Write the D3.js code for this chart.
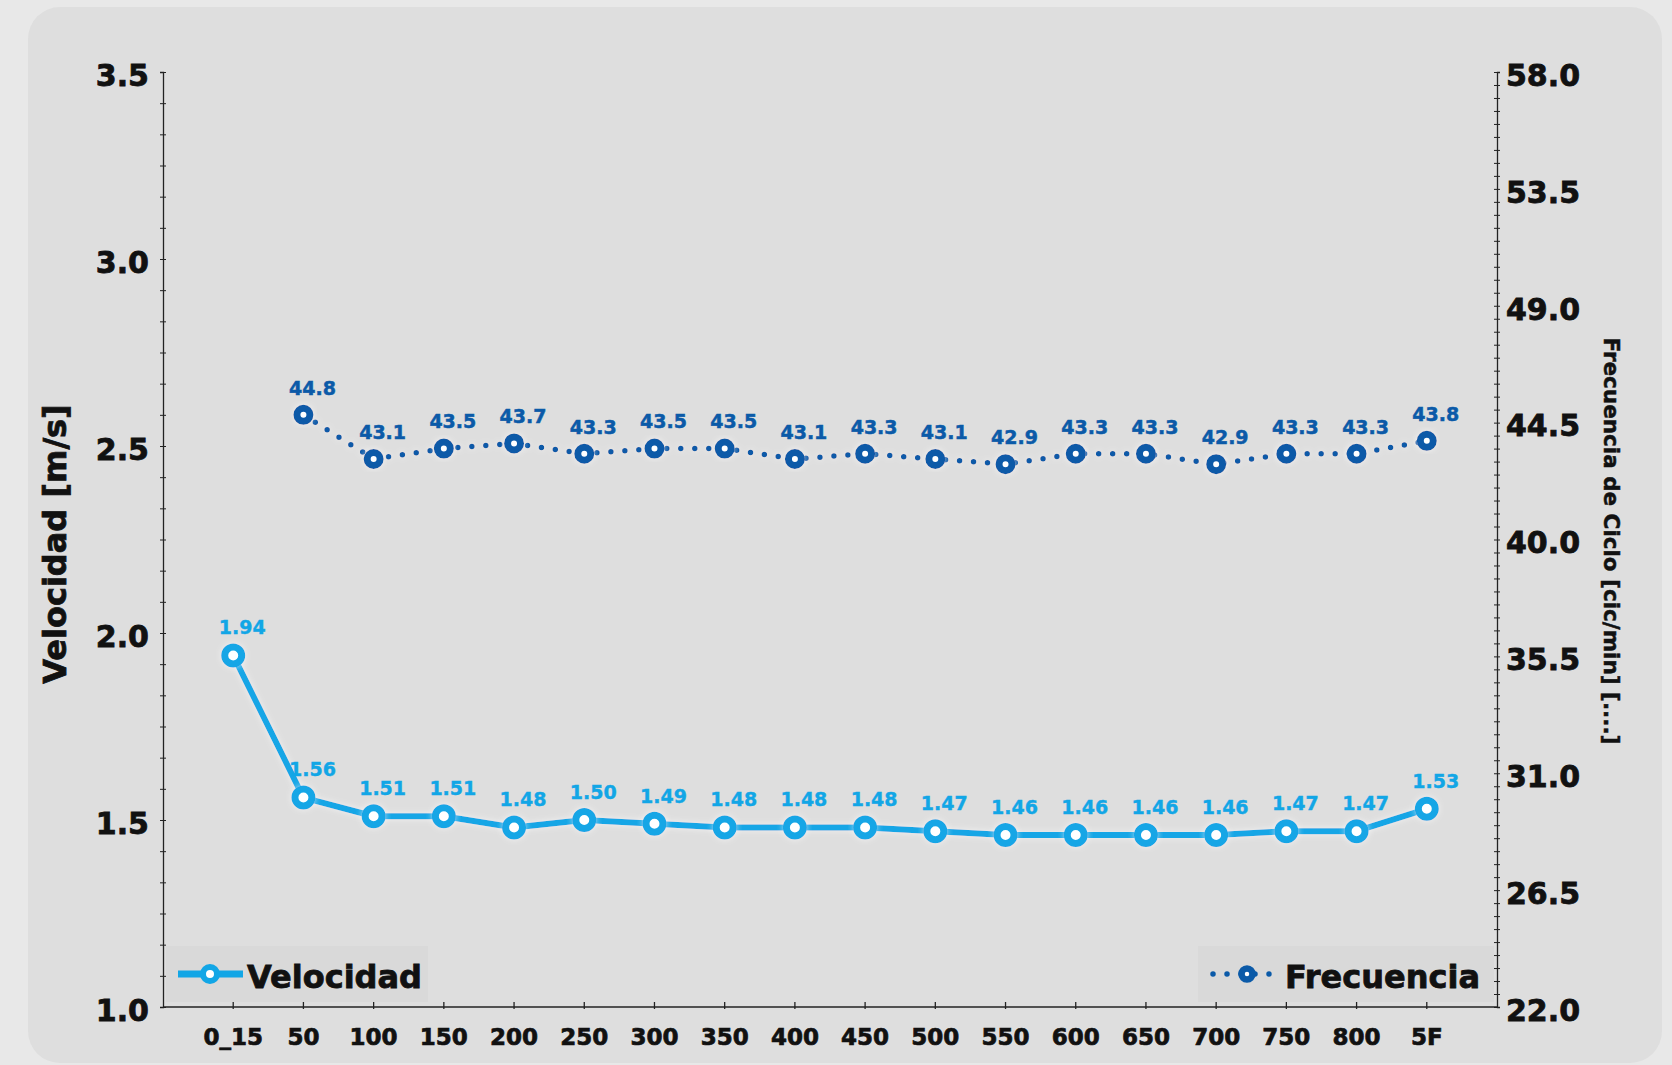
<!DOCTYPE html>
<html>
<head>
<meta charset="utf-8">
<script src="https://cdn.jsdelivr.net/npm/d3@7/dist/d3.min.js"></script>
<style>
  html, body { margin: 0; padding: 0; background: #e8e8e8; }
  svg { display: block; }
  text { font-family: "DejaVu Sans", "Lato", sans-serif; font-weight: bold; }
</style>
</head>
<body>
<svg id="chart" width="1672" height="1065"></svg>
<script>
const categories = ["0_15","50","100","150","200","250","300","350","400","450","500","550","600","650","700","750","800","5F"];
const velocidad = [1.94,1.56,1.51,1.51,1.48,1.50,1.49,1.48,1.48,1.48,1.47,1.46,1.46,1.46,1.46,1.47,1.47,1.53];
const frecuencia = [null,44.8,43.1,43.5,43.7,43.3,43.5,43.5,43.1,43.3,43.1,42.9,43.3,43.3,42.9,43.3,43.3,43.8];
const leftTicks = [1.0,1.5,2.0,2.5,3.0,3.5];
const rightTicks = [22.0,26.5,31.0,35.5,40.0,44.5,49.0,53.5,58.0];

const colVel = "#12a6e6";
const colFreq = "#0b5aa8";

const svg = d3.select("#chart");
const defs = svg.append("defs");
const glow = defs.append("filter").attr("id","glow").attr("x","-50%").attr("y","-50%").attr("width","200%").attr("height","200%");
glow.append("feGaussianBlur").attr("in","SourceAlpha").attr("stdDeviation",3).attr("result","b");
glow.append("feFlood").attr("flood-color","#ffffff").attr("flood-opacity",0.6);
glow.append("feComposite").attr("in2","b").attr("operator","in").attr("result","g");
const mg = glow.append("feMerge");
mg.append("feMergeNode").attr("in","g");
mg.append("feMergeNode").attr("in","SourceGraphic");

// card background
svg.append("rect").attr("x",28).attr("y",7).attr("width",1634).attr("height",1056)
  .attr("rx",32).attr("fill","#dedede");

const pLeft = 163, pRight = 1497, pTop = 72, pBottom = 1007;
const x = d3.scalePoint().domain(categories).range([pLeft, pRight]).padding(1);
const yL = d3.scaleLinear().domain([1.0, 3.5]).range([pBottom, pTop]);
const yR = d3.scaleLinear().domain([22.0, 58.0]).range([pBottom, pTop]);

// legend backgrounds
svg.append("rect").attr("x",166).attr("y",946).attr("width",262).attr("height",56).attr("fill","#d9d9d9");
svg.append("rect").attr("x",1198).attr("y",946).attr("width",296).attr("height",56).attr("fill","#d9d9d9");

// Left axis
const leftMinor = d3.range(0, 31).map(i => 1.0 + i * 0.5 / 6);
const gL = svg.append("g").attr("transform",`translate(${pLeft},0)`);
gL.call(d3.axisLeft(yL).tickValues(leftMinor).tickSize(3).tickFormat(""))
  .call(g => g.selectAll(".tick line").attr("x2",3).attr("x1",-3).attr("stroke","#222"))
  .call(g => g.select(".domain").attr("stroke","#222").attr("stroke-width",1.3));
gL.selectAll(".lbl").data(leftTicks).join("text").attr("class","lbl")
  .attr("x",-14).attr("y",d => yL(d) + 3).attr("dy","0.36em").attr("text-anchor","end")
  .attr("font-size",30).attr("fill","#111").attr("stroke","#111").attr("stroke-width",0.8)
  .text(d => d.toFixed(1));

// Right axis
const rightMinor = d3.range(0, 73).map(i => 22.0 + i * 0.5);
const gR = svg.append("g").attr("transform",`translate(${pRight},0)`);
gR.call(d3.axisRight(yR).tickValues(rightMinor).tickSize(3).tickFormat(""))
  .call(g => g.selectAll(".tick line").attr("x2",-3).attr("x1",3).attr("stroke","#222"))
  .call(g => g.select(".domain").attr("stroke","#222").attr("stroke-width",1.3));
gR.selectAll(".lbl").data(rightTicks).join("text").attr("class","lbl")
  .attr("x",9).attr("y",d => yR(d) + 3).attr("dy","0.36em").attr("text-anchor","start")
  .attr("font-size",30).attr("fill","#111").attr("stroke","#111").attr("stroke-width",0.8)
  .text(d => d.toFixed(1));

// X axis
const gX = svg.append("g").attr("transform",`translate(0,${pBottom})`);
gX.call(d3.axisBottom(x).tickSize(0).tickFormat(""))
  .call(g => g.select(".domain").attr("stroke","#222").attr("stroke-width",1.3).attr("d",`M${pLeft},0H${pRight}`));
gX.selectAll(".tk").data(categories).join("line").attr("class","tk")
  .attr("x1",d => x(d)).attr("x2",d => x(d)).attr("y1",-5).attr("y2",2).attr("stroke","#222").attr("stroke-width",1.3);
gX.selectAll(".lbl").data(categories).join("text").attr("class","lbl")
  .attr("x",d => x(d)).attr("y",30).attr("dy","0.36em").attr("text-anchor","middle")
  .attr("font-size",23).attr("fill","#111").attr("stroke","#111").attr("stroke-width",0.7)
  .text(d => d);

// Axis titles
svg.append("text").attr("transform",`translate(54,544) rotate(-90)`)
  .attr("text-anchor","middle").attr("font-size",32).attr("fill","#111").attr("dy","0.36em")
  .attr("stroke","#111").attr("stroke-width",0.8)
  .text("Velocidad [m/s]");
svg.append("text").attr("transform",`translate(1612,541) rotate(90)`)
  .attr("text-anchor","middle").attr("font-size",21.5).attr("fill","#111").attr("dy","0.36em")
  .attr("stroke","#111").attr("stroke-width",0.5)
  .text("Frecuencia de Ciclo [cic/min] [....]");

// Frecuencia series
const fData = categories.map((c,i) => ({c, v: frecuencia[i]})).filter(d => d.v !== null);
const lineF = d3.line().x(d => x(d.c)).y(d => yR(d.v));
svg.append("path").datum(fData).attr("d",lineF).attr("fill","none")
  .attr("stroke",colFreq).attr("stroke-width",5.5).attr("stroke-linecap","round")
  .attr("stroke-dasharray","0 14").attr("filter","url(#glow)");
svg.selectAll(".fpt").data(fData).join("circle").attr("class","fpt")
  .attr("cx",d => x(d.c)).attr("cy",d => yR(d.v)).attr("r",6.5)
  .attr("fill","#ffffff").attr("stroke",colFreq).attr("stroke-width",7).attr("filter","url(#glow)");
svg.selectAll(".flbl").data(fData).join("text").attr("class","flbl")
  .attr("x",d => x(d.c) + 9).attr("y",d => yR(d.v) - 27).attr("dy","0.36em")
  .attr("text-anchor","middle").attr("font-size",19).attr("fill",colFreq)
  .attr("stroke",colFreq).attr("stroke-width",0.5)
  .text(d => d.v.toFixed(1));

// Velocidad series
const vData = categories.map((c,i) => ({c, v: velocidad[i]}));
const lineV = d3.line().x(d => x(d.c)).y(d => yL(d.v));
svg.append("path").datum(vData).attr("d",lineV).attr("fill","none")
  .attr("stroke",colVel).attr("stroke-width",6).attr("stroke-linejoin","round").attr("filter","url(#glow)");
svg.selectAll(".vpt").data(vData).join("circle").attr("class","vpt")
  .attr("cx",d => x(d.c)).attr("cy",d => yL(d.v)).attr("r",8.5)
  .attr("fill","#ffffff").attr("stroke",colVel).attr("stroke-width",7).attr("filter","url(#glow)");
svg.selectAll(".vlbl").data(vData).join("text").attr("class","vlbl")
  .attr("x",d => x(d.c) + 9).attr("y",d => yL(d.v) - 28).attr("dy","0.36em")
  .attr("text-anchor","middle").attr("font-size",19).attr("fill",colVel)
  .attr("stroke",colVel).attr("stroke-width",0.4)
  .text(d => d.v.toFixed(2));

// Legend: Velocidad
const lv = svg.append("g");
lv.append("line").attr("x1",178).attr("x2",243).attr("y1",974).attr("y2",974)
  .attr("stroke",colVel).attr("stroke-width",7);
lv.append("circle").attr("cx",210).attr("cy",974).attr("r",7).attr("fill","#fff")
  .attr("stroke",colVel).attr("stroke-width",6);
lv.append("text").attr("x",247).attr("y",976).attr("dy","0.36em").attr("font-size",32)
  .attr("fill","#111").attr("stroke","#111").attr("stroke-width",0.8).text("Velocidad");

// Legend: Frecuencia
const lf = svg.append("g");
lf.append("line").attr("x1",1213).attr("x2",1281).attr("y1",974).attr("y2",974)
  .attr("stroke",colFreq).attr("stroke-width",5.5).attr("stroke-linecap","round").attr("stroke-dasharray","0 14");
lf.append("circle").attr("cx",1247).attr("cy",974).attr("r",5.5).attr("fill","#fff")
  .attr("stroke",colFreq).attr("stroke-width",6.5);
lf.append("text").attr("x",1285).attr("y",976).attr("dy","0.36em").attr("font-size",32)
  .attr("fill","#111").attr("stroke","#111").attr("stroke-width",0.8).text("Frecuencia");
</script>
</body>
</html>
